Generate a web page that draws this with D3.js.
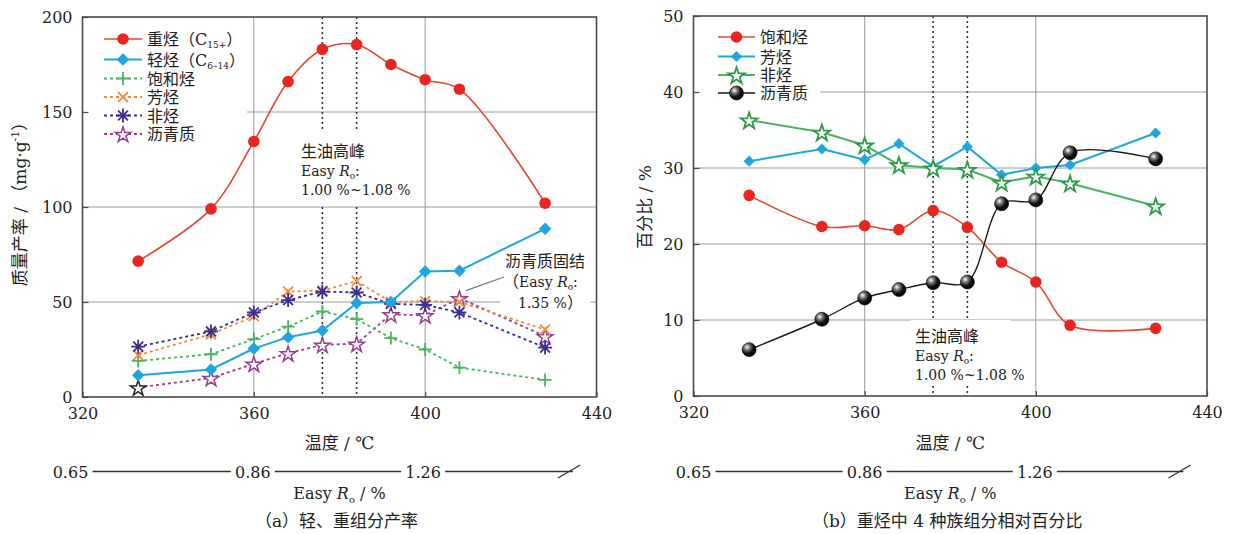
<!DOCTYPE html>
<html>
<head>
<meta charset="utf-8">
<script src="https://cdn.jsdelivr.net/npm/d3@7"></script>
<style>
  html, body { margin: 0; padding: 0; background: #fff; }
  svg { display: block; font-family: "DejaVu Serif", "Noto Sans CJK SC", serif; }
</style>
</head>
<body>
<svg id="chart" width="1236" height="534"></svg>
<script>
// Pyrolysis temperatures (°C) of the ten experiments
const temps = [333, 350, 360, 368, 376, 384, 392, 400, 408, 428];
// Oil-generation peak window (°C), drawn as dotted verticals
const peakTemps = [376, 384];

// (a) yields, mg/g
const heavyYield = [71.5, 99, 134.5, 166, 183, 185.5, 175, 167, 162, 102];
const lightYield = [11.5, 14.5, 25.5, 31.5, 35, 49.5, 50, 66, 66.5, 88.5];
const saturatesYield = [19, 22.5, 30.5, 37, 45, 41, 31, 25, 15.5, 9];
const aromaticsYield = [22, 33, 42.5, 55.5, 56, 61, 50, 50.5, 50, 35.5];
const resinsYield = [26.5, 34.5, 44.5, 51, 55.5, 55, 49, 48.5, 44.5, 26];
const asphaltenesYield = [5, 10, 17.5, 23, 27.5, 28, 43.5, 43, 52, 32];

// (b) relative percentages of the four fractions in heavy hydrocarbons
const saturatesPct = [26.4, 22.3, 22.4, 21.9, 24.4, 22.2, 17.6, 15.0, 9.3, 8.9];
const aromaticsPct = [30.9, 32.5, 31.1, 33.2, 30.2, 32.8, 29.1, 30.0, 30.4, 34.6];
const resinsPct = [36.3, 34.7, 33.0, 30.4, 30.0, 29.8, 28.1, 28.9, 28.0, 25.0];
const asphaltenesPct = [6.1, 10.1, 12.9, 14.0, 14.9, 15.0, 25.3, 25.8, 32.0, 31.2];

// Axis ticks
const xTicks = [320, 360, 400, 440];
const yTicksA = [0, 50, 100, 150, 200];
const yTicksB = [0, 10, 20, 30, 40, 50];
// Easy Ro scale printed under the temperature axis
const roLabels = ["0.65", "0.86", "1.26"];
const roTemps = [320, 360, 400];

const svg = d3.select("#chart");
const NUM = "DejaVu Serif, serif";

const defs = svg.append("defs");
const grad = defs.append("radialGradient").attr("id", "sphere")
  .attr("cx", "35%").attr("cy", "32%").attr("r", "70%");
grad.append("stop").attr("offset", "0%").attr("stop-color", "#ffffff");
grad.append("stop").attr("offset", "30%").attr("stop-color", "#777");
grad.append("stop").attr("offset", "65%").attr("stop-color", "#111");
grad.append("stop").attr("offset", "100%").attr("stop-color", "#000");

const C = {
  red: "#e8261f", redLine: "#e2472e",
  blue: "#1fa6e0", green: "#48b45e", orange: "#f08a3c",
  violet: "#3b2f90", magenta: "#9c3a92", greenStar: "#2f9a45"
};

// ---------- marker drawers ----------
function markCircle(g, x, y, fill, r) {
  g.append("circle").attr("cx", x).attr("cy", y).attr("r", r).attr("fill", fill);
}
function markSphere(g, x, y, r) {
  g.append("circle").attr("cx", x).attr("cy", y).attr("r", r).attr("fill", "url(#sphere)")
    .attr("stroke", "#000").attr("stroke-width", 0.6);
}
function markDiamond(g, x, y, color, size) {
  g.append("path").attr("d", d3.symbol(d3.symbolSquare, size)())
    .attr("transform", `translate(${x},${y}) rotate(45)`).attr("fill", color);
}
function markStar(g, x, y, color, size, sw) {
  g.append("path").attr("d", d3.symbol(d3.symbolStar, size)())
    .attr("transform", `translate(${x},${y + 1})`).attr("fill", "#fff")
    .attr("stroke", color).attr("stroke-width", sw).attr("stroke-linejoin", "miter");
}
function markLines(g, x, y, color, r, angles) {
  const p = d3.path();
  angles.forEach(a => {
    const dx = r * Math.cos(a), dy = r * Math.sin(a);
    p.moveTo(x - dx, y - dy); p.lineTo(x + dx, y + dy);
  });
  g.append("path").attr("d", p.toString()).attr("stroke", color)
    .attr("stroke-width", 1.8).attr("fill", "none");
}
const markPlus = (g, x, y, c) => markLines(g, x, y, c, 6.5, [0, Math.PI / 2]);
const markX = (g, x, y, c) => markLines(g, x, y, c, 7, [Math.PI / 4, -Math.PI / 4]);
const markAst = (g, x, y, c) => markLines(g, x, y, c, 7, [0, Math.PI / 4, Math.PI / 2, -Math.PI / 4]);

// ---------- panel scaffolding ----------
function panel(cfg) {
  const x = d3.scaleLinear().domain([320, 440]).range([cfg.x0, cfg.x1]);
  const y = d3.scaleLinear().domain(cfg.yDomain).range([cfg.y1, cfg.y0]);
  const g = svg.append("g");

  // gridlines
  const grid = g.append("g").attr("stroke", "#9a9a9a").attr("stroke-width", 1);
  cfg.yTicks.slice(1, -1).forEach(t => grid.append("line")
    .attr("x1", cfg.x0).attr("x2", cfg.x1).attr("y1", y(t)).attr("y2", y(t)));
  xTicks.slice(1, -1).forEach(t => grid.append("line")
    .attr("x1", x(t)).attr("x2", x(t)).attr("y1", cfg.y0).attr("y2", cfg.y1));

  // oil-generation peak window
  peakTemps.forEach(t => g.append("line")
    .attr("x1", x(t)).attr("x2", x(t)).attr("y1", cfg.y0).attr("y2", cfg.y1)
    .attr("stroke", "#333").attr("stroke-width", 1.6).attr("stroke-dasharray", "2,3"));

  // white boxes behind the legend and annotations
  cfg.boxes.forEach(b => g.append("rect").attr("x", b[0]).attr("y", b[1])
    .attr("width", b[2]).attr("height", b[3]).attr("fill", "#fff"));

  // frame
  g.append("rect").attr("x", cfg.x0).attr("y", cfg.y0)
    .attr("width", cfg.x1 - cfg.x0).attr("height", cfg.y1 - cfg.y0)
    .attr("fill", "none").attr("stroke", "#4a4a4a").attr("stroke-width", 1.6);

  // axes
  const ay = g.append("g").attr("transform", `translate(${cfg.x0},0)`)
    .call(d3.axisLeft(y).tickValues(cfg.yTicks).tickSize(-6).tickPadding(10));
  const ax = g.append("g").attr("transform", `translate(0,${cfg.y1})`)
    .call(d3.axisBottom(x).tickValues(xTicks).tickFormat(d3.format("d")).tickSize(-5).tickPadding(11));
  [ax, ay].forEach(a => {
    a.select(".domain").remove();
    a.selectAll("line").attr("stroke", "#4a4a4a").attr("stroke-width", 1.2);
    a.selectAll("text").attr("font-size", 16).attr("fill", "#222").attr("font-family", NUM);
  });

  const cx = (cfg.x0 + cfg.x1) / 2;
  // temperature axis title
  g.append("text").attr("x", cx).attr("y", 449).attr("text-anchor", "middle")
    .attr("font-size", 17).attr("fill", "#222").text("温度 / ℃");

  // Easy Ro scale row
  const roY = 478, lineY = 471.5;
  const roX = roTemps.map((t, i) => x(t) + cfg.roShift[i]);
  const labW = 36;
  roLabels.forEach((l, i) => g.append("text").attr("x", roX[i]).attr("y", roY)
    .attr("text-anchor", "middle").attr("font-size", 16).attr("font-family", NUM)
    .attr("fill", "#222").text(l));
  const segEnds = [roX[1] - labW / 2 - 4, roX[2] - labW / 2 - 4, x(434.5)];
  segEnds.forEach((e, i) => g.append("line")
    .attr("x1", roX[i] + labW / 2 + 4).attr("x2", e).attr("y1", lineY).attr("y2", lineY)
    .attr("stroke", "#333").attr("stroke-width", 1.3));
  g.append("line").attr("x1", x(431)).attr("x2", x(436.2)).attr("y1", 478).attr("y2", 465)
    .attr("stroke", "#333").attr("stroke-width", 1.3);

  const ro = g.append("text").attr("x", cx).attr("y", 499).attr("text-anchor", "middle")
    .attr("font-size", 16).attr("font-family", NUM).attr("fill", "#222");
  ro.append("tspan").text("Easy ");
  ro.append("tspan").attr("font-style", "italic").text("R");
  ro.append("tspan").attr("font-size", 10).attr("dy", 4).text("o");
  ro.append("tspan").attr("dy", -4).text(" / %");

  g.append("text").attr("x", cx - 3).attr("y", 527).attr("text-anchor", "middle")
    .attr("font-size", 17).attr("fill", "#222").text(cfg.caption);

  return { g, x, y };
}

function series(P, vals, opt) {
  const pts = temps.map((t, i) => [P.x(t), P.y(vals[i])]);
  const line = d3.line().curve(opt.smooth ? d3.curveCatmullRom.alpha(0.5) : d3.curveLinear);
  P.g.append("path").attr("d", line(pts)).attr("fill", "none")
    .attr("stroke", opt.lineColor).attr("stroke-width", opt.width || 1.6)
    .attr("stroke-dasharray", opt.dash || null);
  const mg = P.g.append("g");
  pts.forEach((p, i) => opt.marker(mg, p[0], p[1], i));
}

function legendEntry(g, x1, x2, y, opt, label) {
  g.append("line").attr("x1", x1).attr("x2", x2).attr("y1", y).attr("y2", y)
    .attr("stroke", opt.lineColor).attr("stroke-width", opt.width || 1.6)
    .attr("stroke-dasharray", opt.dash || null);
  opt.marker(g, (x1 + x2) / 2, y, -1);
  const t = g.append("text").attr("x", x2 + 5).attr("y", y + 6)
    .attr("font-size", 16).attr("fill", "#222");
  label(t);
}

function roText(g, x, y, pre, post) {
  const t = g.append("text").attr("x", x).attr("y", y).attr("font-size", 14).attr("fill", "#222");
  t.append("tspan").attr("font-size", 16).text(pre);
  t.append("tspan").text("Easy ");
  t.append("tspan").attr("font-style", "italic").text("R");
  t.append("tspan").attr("font-size", 9).attr("dy", 3).text("o");
  t.append("tspan").attr("dy", -3).text(post);
}

function peakNote(g, x, y) {
  g.append("text").attr("x", x).attr("y", y).attr("font-size", 16).attr("fill", "#222").text("生油高峰");
  roText(g, x, y + 19, "", ":");
  g.append("text").attr("x", x).attr("y", y + 38).attr("font-size", 14).attr("fill", "#222")
    .text("1.00 %~1.08 %");
}

// ================= (a) light & heavy yields =================
const A = panel({
  x0: 82.5, x1: 596.5, y0: 17, y1: 397, yDomain: [0, 200], yTicks: yTicksA,
  roShift: [-12, -1, -2], caption: "（a）轻、重组分产率",
  boxes: [[84, 19, 163, 124], [297, 131, 80, 73], [500, 251, 90, 59]]
});

const optHeavy = { lineColor: C.redLine, width: 1.6, smooth: true,
  marker: (g, x, y) => markCircle(g, x, y, C.red, 5.8) };
const optLight = { lineColor: C.blue, width: 2,
  marker: (g, x, y) => markDiamond(g, x, y, C.blue, 78) };
const optSat = { lineColor: C.green, width: 1.8, dash: "3,3",
  marker: (g, x, y) => markPlus(g, x, y, C.green) };
const optAro = { lineColor: C.orange, width: 1.8, dash: "3,3",
  marker: (g, x, y) => markX(g, x, y, C.orange) };
const optRes = { lineColor: C.violet, width: 1.8, dash: "3,3",
  marker: (g, x, y) => markAst(g, x, y, C.violet) };
const optAsp = { lineColor: C.magenta, width: 1.8, dash: "3,3",
  marker: (g, x, y, i) => markStar(g, x, y, i === 0 ? "#222" : C.magenta, 75, 1.5) };

series(A, asphaltenesYield, optAsp);
series(A, saturatesYield, optSat);
series(A, aromaticsYield, optAro);
series(A, resinsYield, optRes);
series(A, lightYield, optLight);
series(A, heavyYield, optHeavy);

// y-axis title
const tA = A.g.append("text").attr("transform", "translate(26,200) rotate(-90)")
  .attr("text-anchor", "middle").attr("font-size", 17).attr("fill", "#222");
tA.append("tspan").text("质量产率 / （mg·g");
tA.append("tspan").attr("font-size", 11).attr("dy", -7).text("-1");
tA.append("tspan").attr("dy", 7).text("）");

// legend
const legA = A.g.append("g");
const sub = (t, main, s, tail) => {
  t.append("tspan").text(main);
  t.append("tspan").attr("font-size", 9).attr("dy", 3).text(s);
  t.append("tspan").attr("dy", -3).text(tail);
};
const legRowsA = [39, 59.5, 78.5, 97, 115.5, 134];
legendEntry(legA, 104, 142, legRowsA[0], optHeavy, t => sub(t, "重烃（C", "15+", "）"));
legendEntry(legA, 104, 142, legRowsA[1], optLight, t => sub(t, " 轻烃（C", "6–14", "）"));
legendEntry(legA, 104, 142, legRowsA[2], optSat, t => t.text("饱和烃"));
legendEntry(legA, 104, 142, legRowsA[3], optAro, t => t.text("芳烃"));
legendEntry(legA, 104, 142, legRowsA[4], optRes, t => t.text("非烃"));
legendEntry(legA, 104, 142, legRowsA[5], { ...optAsp, marker: (g, x, y) => markStar(g, x, y, C.magenta, 75, 1.5) }, t => t.text("沥青质"));

peakNote(A.g, 301, 157);

// asphaltene consolidation note
A.g.append("line").attr("x1", A.x(409.5)).attr("y1", A.y(56)).attr("x2", 504).attr("y2", 277)
  .attr("stroke", "#777").attr("stroke-width", 1.2);
A.g.append("text").attr("x", 505).attr("y", 267).attr("font-size", 16).attr("fill", "#222").text("沥青质固结");
roText(A.g, 503, 287, "（", ":");
const n135 = A.g.append("text").attr("x", 518).attr("y", 308).attr("font-size", 14).attr("fill", "#222");
n135.append("tspan").text("1.35 %");
n135.append("tspan").attr("font-size", 16).text("）");

// ================= (b) relative percentages =================
const B = panel({
  x0: 693.5, x1: 1207, y0: 16, y1: 396, yDomain: [0, 50], yTicks: yTicksB,
  roShift: [0, 0, -1], caption: "（b）重烃中 4 种族组分相对百分比",
  boxes: [[695, 18, 125, 82], [911, 320, 100, 66]]
});

const optSatB = { lineColor: C.redLine, width: 1.6, smooth: true,
  marker: (g, x, y) => markCircle(g, x, y, C.red, 5.8) };
const optAroB = { lineColor: C.blue, width: 2,
  marker: (g, x, y) => markDiamond(g, x, y, C.blue, 62) };
const optResB = { lineColor: C.green, width: 2,
  marker: (g, x, y) => markStar(g, x, y, C.greenStar, 85, 1.8) };
const optAspB = { lineColor: "#1a1a1a", width: 1.4, smooth: true,
  marker: (g, x, y) => markSphere(g, x, y, 7) };

series(B, saturatesPct, optSatB);
series(B, aromaticsPct, optAroB);
series(B, resinsPct, optResB);
series(B, asphaltenesPct, optAspB);

B.g.append("text").attr("transform", "translate(651,207) rotate(-90)")
  .attr("text-anchor", "middle").attr("font-size", 17).attr("fill", "#222").text("百分比 / %");

const legB = B.g.append("g");
const legRowsB = [37, 56.5, 75, 93];
legendEntry(legB, 718, 755, legRowsB[0], optSatB, t => t.text("饱和烃"));
legendEntry(legB, 718, 755, legRowsB[1], optAroB, t => t.text("芳烃"));
legendEntry(legB, 718, 755, legRowsB[2], optResB, t => t.text("非烃"));
legendEntry(legB, 718, 755, legRowsB[3], optAspB, t => t.text("沥青质"));

peakNote(B.g, 915, 342);
</script>
</body>
</html>
